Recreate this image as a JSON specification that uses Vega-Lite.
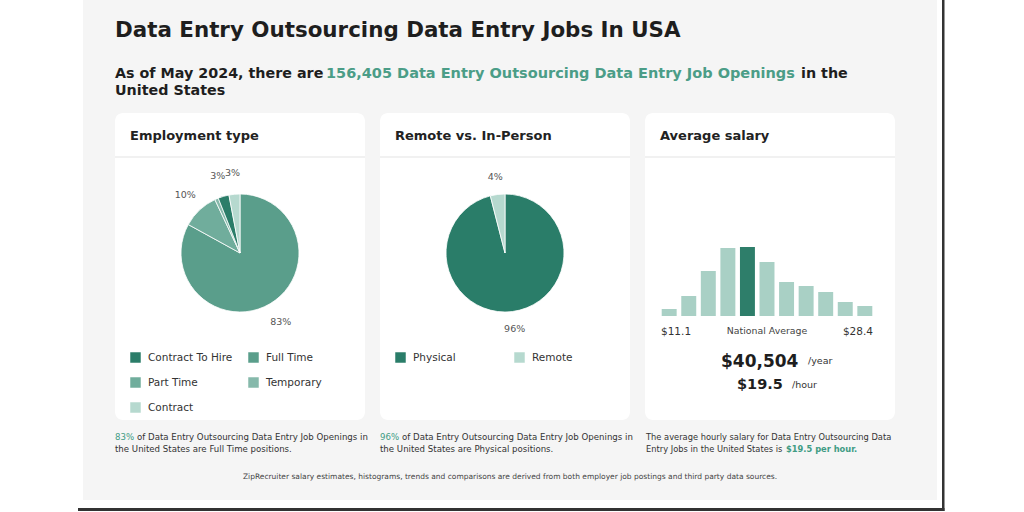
{
  "$schema": "https://vega.github.io/schema/vega-lite/v6.json",
  "background": "#f5f5f5",
  "padding": 0,
  "spacing": 0,
  "resolve": {"scale": {"color": "independent", "theta": "independent", "x": "independent", "y": "independent"}, "legend": {"color": "independent"}},
  "config": {"view": {"stroke": null}, "font": "DejaVu Sans"},
  "hconcat": [
    {
      "width": 83, "height": 512,
      "view": {"fill": "white"},
      "data": {"values": [{}]},
      "layer": [
        {"mark": {"type": "rect", "x": 78, "x2": 83, "y": 508, "y2": 511, "fill": "#333333"}}
      ]
    },
    {
      "width": 32, "height": 512,
      "data": {"values": [{}]},
      "layer": [
        {"mark": {"type": "rect", "x": 0, "x2": 32, "y": 500, "y2": 512, "fill": "white"}},
        {"mark": {"type": "rect", "x": 0, "x2": 32, "y": 508, "y2": 511, "fill": "#333333"}}
      ]
    },
    {
      "spacing": 0,
      "resolve": {"scale": {"color": "independent", "theta": "independent", "x": "independent", "y": "independent"}, "legend": {"color": "independent"}},
      "vconcat": [
        {
          "width": 780, "height": 113,
          "data": {"values": [{}]},
          "layer": [
            {"mark": {"type": "text", "x": 0, "y": 37, "align": "left", "baseline": "alphabetic", "fontSize": 21.4, "fontWeight": "bold", "fill": "#1e1e1e", "text": "Data Entry Outsourcing Data Entry Jobs In USA"}},
            {"mark": {"type": "text", "x": 0, "y": 78, "align": "left", "baseline": "alphabetic", "fontSize": 14.3, "fontWeight": "bold", "fill": "#1e1e1e", "text": "As of May 2024, there are"}},
            {"mark": {"type": "text", "x": 211, "y": 78, "align": "left", "baseline": "alphabetic", "fontSize": 14.5, "fontWeight": "bold", "fill": "#4b9d87", "text": "156,405 Data Entry Outsourcing Data Entry Job Openings"}},
            {"mark": {"type": "text", "x": 686, "y": 78, "align": "left", "baseline": "alphabetic", "fontSize": 14.3, "fontWeight": "bold", "fill": "#1e1e1e", "text": "in the"}},
            {"mark": {"type": "text", "x": 0, "y": 95, "align": "left", "baseline": "alphabetic", "fontSize": 14.3, "fontWeight": "bold", "fill": "#1e1e1e", "text": "United States"}}
          ]
        },
        {
          "spacing": 15,
          "resolve": {"scale": {"color": "independent", "theta": "independent", "x": "independent", "y": "independent"}, "legend": {"color": "independent"}},
          "hconcat": [
            {
              "width": 250, "height": 307,
              "view": {"fill": "white", "cornerRadius": 8},
              "layer": [
                {"data": {"values": [{}]}, "mark": {"type": "text", "x": 15, "y": 27, "align": "left", "baseline": "alphabetic", "fontSize": 13, "fontWeight": "bold", "fill": "#222222", "text": "Employment type"}},
                {"data": {"values": [{}]}, "mark": {"type": "rect", "x": 0, "x2": 250, "y": 43, "y2": 45, "fill": "#f1f1f1"}},
                {
                  "data": {"values": [
                    {"type": "Full Time", "pct": 83, "ord": 1, "lab": "83%"},
                    {"type": "Part Time", "pct": 10, "ord": 2, "lab": "10%"},
                    {"type": "Temporary", "pct": 1, "ord": 3, "lab": ""},
                    {"type": "Contract To Hire", "pct": 3, "ord": 4, "lab": "3%"},
                    {"type": "Contract", "pct": 3, "ord": 5, "lab": "3%"}
                  ]},
                  "layer": [
                    {
                      "mark": {"type": "arc", "x": 125, "y": 140, "outerRadius": 59, "stroke": "white", "strokeWidth": 0.8},
                      "encoding": {
                        "theta": {"field": "pct", "type": "quantitative", "stack": true},
                        "order": {"field": "ord", "type": "quantitative"},
                        "color": {
                          "field": "type", "type": "nominal",
                          "scale": {"domain": ["Contract To Hire", "Full Time", "Part Time", "Temporary", "Contract"], "range": ["#2b7d69", "#5a9e8b", "#70ad9c", "#86b9ab", "#b6d9cf"]},
                          "legend": {"orient": "none", "legendX": 15, "legendY": 239, "direction": "horizontal", "columns": 2, "title": null, "symbolType": "square", "symbolSize": 110, "symbolStrokeWidth": 0, "labelFontSize": 10.5, "labelColor": "#333333", "labelOffset": 7, "rowPadding": 14, "columnPadding": 15}
                        }
                      }
                    },
                    {
                      "mark": {"type": "text", "x": 125, "y": 140, "radius": 80, "fontSize": 9.5, "fill": "#555555"},
                      "encoding": {
                        "theta": {"field": "pct", "type": "quantitative", "stack": true},
                        "order": {"field": "ord", "type": "quantitative"},
                        "detail": {"field": "type"},
                        "text": {"field": "lab"}
                      }
                    }
                  ]
                }
              ]
            },
            {
              "width": 250, "height": 307,
              "view": {"fill": "white", "cornerRadius": 8},
              "layer": [
                {"data": {"values": [{}]}, "mark": {"type": "text", "x": 15, "y": 27, "align": "left", "baseline": "alphabetic", "fontSize": 13, "fontWeight": "bold", "fill": "#222222", "text": "Remote vs. In-Person"}},
                {"data": {"values": [{}]}, "mark": {"type": "rect", "x": 0, "x2": 250, "y": 43, "y2": 45, "fill": "#f1f1f1"}},
                {
                  "data": {"values": [
                    {"kind": "Physical", "pct": 96, "ord": 1, "lab": "96%"},
                    {"kind": "Remote", "pct": 4, "ord": 2, "lab": "4%"}
                  ]},
                  "layer": [
                    {
                      "mark": {"type": "arc", "x": 125, "y": 140, "outerRadius": 59, "stroke": "white", "strokeWidth": 0.8},
                      "encoding": {
                        "theta": {"field": "pct", "type": "quantitative", "stack": true},
                        "order": {"field": "ord", "type": "quantitative"},
                        "color": {
                          "field": "kind", "type": "nominal",
                          "scale": {"domain": ["Physical", "Remote"], "range": ["#2a7d69", "#b6d9cf"]},
                          "legend": {"orient": "none", "legendX": 15, "legendY": 239, "direction": "horizontal", "columns": 2, "title": null, "symbolType": "square", "symbolSize": 110, "symbolStrokeWidth": 0, "labelFontSize": 10.5, "labelColor": "#333333", "labelOffset": 7, "rowPadding": 14, "columnPadding": 58}
                        }
                      }
                    },
                    {
                      "mark": {"type": "text", "x": 125, "y": 140, "radius": 77, "fontSize": 9.5, "fill": "#555555"},
                      "encoding": {
                        "theta": {"field": "pct", "type": "quantitative", "stack": true},
                        "order": {"field": "ord", "type": "quantitative"},
                        "detail": {"field": "kind"},
                        "text": {"field": "lab"}
                      }
                    }
                  ]
                }
              ]
            },
            {
              "width": 250, "height": 307,
              "view": {"fill": "white", "cornerRadius": 8},
              "layer": [
                {"data": {"values": [{}]}, "mark": {"type": "text", "x": 15, "y": 27, "align": "left", "baseline": "alphabetic", "fontSize": 13, "fontWeight": "bold", "fill": "#222222", "text": "Average salary"}},
                {"data": {"values": [{}]}, "mark": {"type": "rect", "x": 0, "x2": 250, "y": 43, "y2": 45, "fill": "#f1f1f1"}},
                {
                  "data": {"values": [
                    {"bin": 1, "share": 7, "hl": "other"},
                    {"bin": 2, "share": 20, "hl": "other"},
                    {"bin": 3, "share": 45, "hl": "other"},
                    {"bin": 4, "share": 68, "hl": "other"},
                    {"bin": 5, "share": 69, "hl": "average"},
                    {"bin": 6, "share": 54, "hl": "other"},
                    {"bin": 7, "share": 34, "hl": "other"},
                    {"bin": 8, "share": 30, "hl": "other"},
                    {"bin": 9, "share": 24, "hl": "other"},
                    {"bin": 10, "share": 14, "hl": "other"},
                    {"bin": 11, "share": 10, "hl": "other"}
                  ]},
                  "mark": {"type": "bar"},
                  "encoding": {
                    "x": {"field": "bin", "type": "ordinal", "axis": null, "scale": {"range": [16.7, 227.3], "paddingInner": 0.235, "paddingOuter": 0}},
                    "y": {"field": "share", "type": "quantitative", "axis": null, "scale": {"domain": [0, 69], "range": [203, 134]}},
                    "color": {"field": "hl", "type": "nominal", "legend": null, "scale": {"domain": ["other", "average"], "range": ["#a9d0c5", "#2e7e6a"]}}
                  }
                },
                {"data": {"values": [{}]}, "mark": {"type": "text", "x": 16, "y": 222, "align": "left", "baseline": "alphabetic", "fontSize": 10.5, "fill": "#333333", "text": "$11.1"}},
                {"data": {"values": [{}]}, "mark": {"type": "text", "x": 122, "y": 221, "align": "center", "baseline": "alphabetic", "fontSize": 9.4, "fill": "#444444", "text": "National Average"}},
                {"data": {"values": [{}]}, "mark": {"type": "text", "x": 228, "y": 222, "align": "right", "baseline": "alphabetic", "fontSize": 10.5, "fill": "#333333", "text": "$28.4"}},
                {"data": {"values": [{}]}, "mark": {"type": "text", "x": 76, "y": 254, "align": "left", "baseline": "alphabetic", "fontSize": 17, "fontWeight": "bold", "fill": "#1e1e1e", "text": "$40,504"}},
                {"data": {"values": [{}]}, "mark": {"type": "text", "x": 163, "y": 251, "align": "left", "baseline": "alphabetic", "fontSize": 9.5, "fill": "#333333", "text": "/year"}},
                {"data": {"values": [{}]}, "mark": {"type": "text", "x": 92, "y": 276, "align": "left", "baseline": "alphabetic", "fontSize": 14.5, "fontWeight": "bold", "fill": "#1e1e1e", "text": "$19.5"}},
                {"data": {"values": [{}]}, "mark": {"type": "text", "x": 147, "y": 275, "align": "left", "baseline": "alphabetic", "fontSize": 9.5, "fill": "#333333", "text": "/hour"}}
              ]
            }
          ]
        },
        {
          "width": 780, "height": 92,
          "data": {"values": [{}]},
          "layer": [
            {"mark": {"type": "text", "x": 0, "y": 20, "align": "left", "baseline": "alphabetic", "fontSize": 8.6, "fill": "#3f9c84", "text": "83%"}},
            {"mark": {"type": "text", "x": 22, "y": 20, "align": "left", "baseline": "alphabetic", "fontSize": 8.6, "fill": "#333333", "text": "of Data Entry Outsourcing Data Entry Job Openings in"}},
            {"mark": {"type": "text", "x": 0, "y": 32, "align": "left", "baseline": "alphabetic", "fontSize": 8.6, "fill": "#333333", "text": "the United States are Full Time positions."}},
            {"mark": {"type": "text", "x": 265, "y": 20, "align": "left", "baseline": "alphabetic", "fontSize": 8.6, "fill": "#3f9c84", "text": "96%"}},
            {"mark": {"type": "text", "x": 287, "y": 20, "align": "left", "baseline": "alphabetic", "fontSize": 8.6, "fill": "#333333", "text": "of Data Entry Outsourcing Data Entry Job Openings in"}},
            {"mark": {"type": "text", "x": 265, "y": 32, "align": "left", "baseline": "alphabetic", "fontSize": 8.6, "fill": "#333333", "text": "the United States are Physical positions."}},
            {"mark": {"type": "text", "x": 531, "y": 20, "align": "left", "baseline": "alphabetic", "fontSize": 8.3, "fill": "#333333", "text": "The average hourly salary for Data Entry Outsourcing Data"}},
            {"mark": {"type": "text", "x": 531, "y": 32, "align": "left", "baseline": "alphabetic", "fontSize": 8.3, "fill": "#333333", "text": "Entry Jobs in the United States is"}},
            {"mark": {"type": "text", "x": 671, "y": 32, "align": "left", "baseline": "alphabetic", "fontSize": 8.3, "fontWeight": "bold", "fill": "#3f9c84", "text": "$19.5 per hour."}},
            {"mark": {"type": "text", "x": 395, "y": 59, "align": "center", "baseline": "alphabetic", "fontSize": 7.5, "fill": "#444444", "text": "ZipRecruiter salary estimates, histograms, trends and comparisons are derived from both employer job postings and third party data sources."}},
            {"mark": {"type": "rect", "x": 0, "x2": 780, "y": 80, "y2": 92, "fill": "white"}},
            {"mark": {"type": "rect", "x": 0, "x2": 780, "y": 88, "y2": 91, "fill": "#333333"}}
          ]
        }
      ]
    },
    {
      "width": 42, "height": 512,
      "data": {"values": [{}]},
      "layer": [
        {"mark": {"type": "rect", "x": 0, "x2": 42, "y": 500, "y2": 512, "fill": "white"}},
        {"mark": {"type": "rect", "x": 0, "x2": 42, "y": 508, "y2": 511, "fill": "#333333"}}
      ]
    },
    {
      "width": 87, "height": 512,
      "view": {"fill": "white"},
      "data": {"values": [{}]},
      "layer": [
        {"mark": {"type": "rect", "x": 5, "x2": 7.5, "y": 0, "y2": 511, "fill": "#333333"}},
        {"mark": {"type": "rect", "x": 0, "x2": 7.5, "y": 508, "y2": 511, "fill": "#333333"}}
      ]
    }
  ]
}
